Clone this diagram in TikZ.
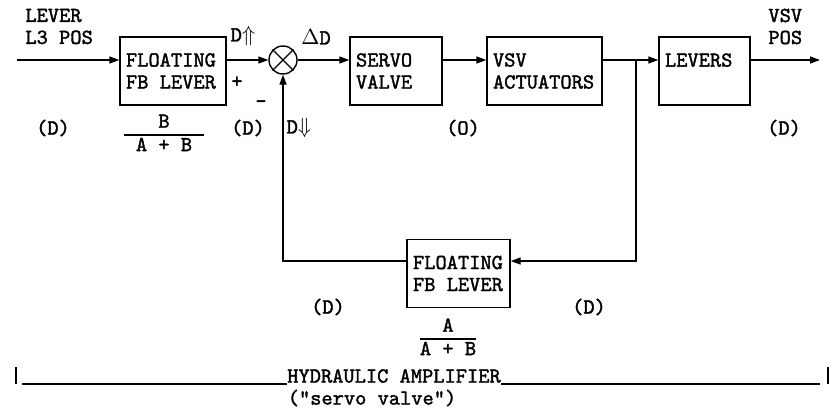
\documentclass[tikz,border=0pt]{standalone}
\usepackage{fontspec}
\newfontfamily\diagfont{lmmono10-regular.otf}[FakeBold=1.6]
\usetikzlibrary{arrows.meta,positioning}

\tikzset{
  blk/.style={draw, line width=0.7pt, minimum height=34pt, inner xsep=3pt, inner ysep=2pt, text width=#1, align=left},
  sig/.style={line width=0.7pt, -{Triangle[length=5pt,width=3.5pt]}},
  wire/.style={line width=0.7pt},
}

\begin{document}
\begin{tikzpicture}[x=0.5pt, y=-0.5pt, inner sep=0pt,
    font=\diagfont\bfseries\fontsize{10.7}{11}\selectfont,
    every node/.append style={execute at begin node={\spaceskip=0pt\relax}}]
    \useasboundingbox (0,0) rectangle (839,407);
    \setlength{\arrayrulewidth}{0.7pt}

    % forward path
    \node[blk=47pt] (fb1) at (173,71) {FLOATING\\FB LEVER};
    \node[circle, draw, line width=0.7pt, minimum size=14pt] (sum) at (283,60) {};
    \draw[wire] (sum.north west) -- (sum.south east) (sum.north east) -- (sum.south west);
    \node[blk=40pt] (sv) at (396,71) {SERVO\\VALVE};
    \node[blk=51.5pt] (act) at (544.5,71) {VSV\\ACTUATORS};
    \node[blk=39.5pt] (lev) at (704.5,71) {LEVERS\\\mbox{}};
    % feedback path
    \node[blk=45.5pt] (fb2) at (458.5,273.5) {FLOATING\\FB LEVER};

    \coordinate (in) at (17,60);
    \coordinate (out) at (820,60);
    \coordinate (br) at (636,60);
    \coordinate (fbin) at (636,261);

    \draw[sig] (in) -- (in -| fb1.west);
    \draw[sig] (fb1.east |- sum) -- (sum.west);
    \draw[sig] (sum.east) -- (sum -| sv.west);
    \draw[sig] (sum -| sv.east) -- (sum -| act.west);
    \draw[sig] (sum -| act.east) -- (sum -| lev.west);
    \draw[sig] (sum -| lev.east) -- (out);
    \draw[sig] (br) -- (fbin) -- (fbin -| fb2.east);
    \draw[sig] (fbin -| fb2.west) -| (sum.south);

    % signal labels
    \node[align=left, anchor=west] (inlbl) at (25,26.5) {LEVER\\L3 POS};
    \node[align=left, anchor=west] (outlbl) at (768,26.5) {VSV\\POS};
    \node (dup) at (243,36) {D$\Uparrow$};
    \node (plus) at (237,82) {+};
    \node (minus) at (261,104) {-};
    \node (dd) at (316,37) {$\Delta$D};
    \node (ddn) at (299,128) {D$\Downarrow$};

    % units
    \node (u1) at (53,128) {(D)};
    \node (u2) at (248,128) {(D)};
    \node (u3) at (463,128) {(O)};
    \node (u4) at (784,128) {(D)};
    \node (u5) at (328,307) {(D)};
    \node (u6) at (589,307) {(D)};

    % gains
    \node (g1) at (164,135) {\begin{tabular}{@{\hspace{6pt}}c@{\hspace{6pt}}}B\\\hline A + B\end{tabular}};
    \node (g2) at (448,339) {\begin{tabular}{@{}c@{}}A\\\hline A + B\end{tabular}};

    % bracket
    \node (ha) at (394,376) {HYDRAULIC AMPLIFIER};
    \node (hb) at (372,398) {("servo valve")};
    \coordinate (hl) at (22,384);
    \coordinate (hr) at (820,384);
    \draw[line width=0.8pt] (hl) -- (hl -| ha.west) (ha.east |- hr) -- (hr);
    \draw[line width=1pt] (16,367) -- (16,384) (828,367) -- (828,384);
\end{tikzpicture}
\end{document}
